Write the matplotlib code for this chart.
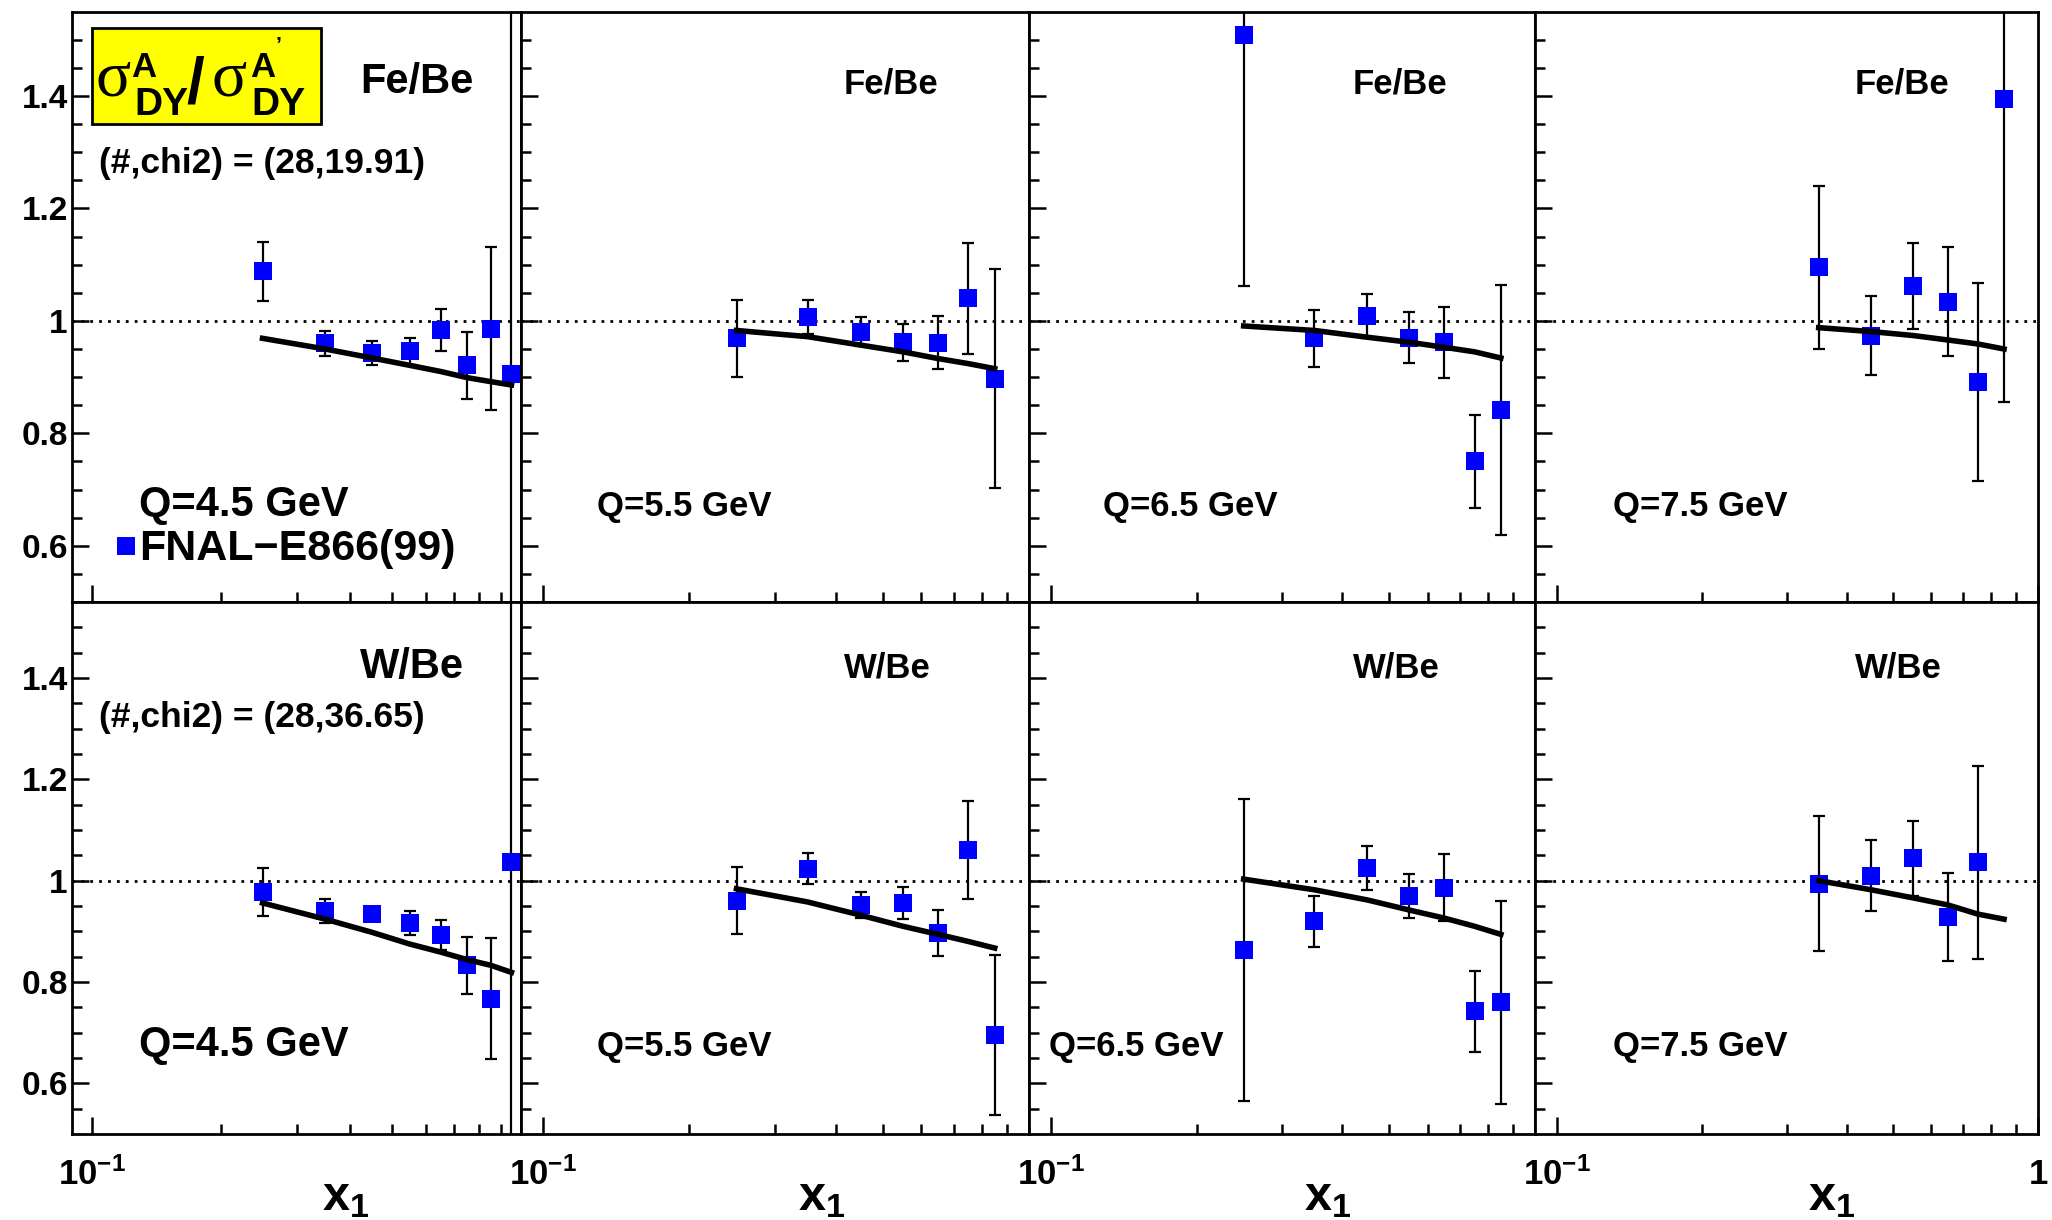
import matplotlib
matplotlib.use("Agg")
import matplotlib.pyplot as plt
from matplotlib.patches import Rectangle
from matplotlib.ticker import FixedLocator, FixedFormatter, NullFormatter

plt.rcParams['font.family'] = ['Liberation Sans', 'DejaVu Sans']
plt.rcParams['font.weight'] = 'bold'
plt.rcParams['mathtext.fontset'] = 'custom'
plt.rcParams['mathtext.rm'] = 'Liberation Sans:bold'
plt.rcParams['mathtext.it'] = 'Liberation Sans:bold'
plt.rcParams['mathtext.bf'] = 'Liberation Sans:bold'

# ---- data ----
q_labels = ["Q=4.5 GeV", "Q=5.5 GeV", "Q=6.5 GeV", "Q=7.5 GeV"]
chi2_labels = ["(#,chi2) = (28,19.91)", "(#,chi2) = (28,36.65)"]
row_names = ["Fe/Be", "W/Be"]

x_q45 = [0.25, 0.35, 0.45, 0.55, 0.65, 0.75, 0.85, 0.95]
x_q55 = [0.25, 0.35, 0.45, 0.55, 0.65, 0.75, 0.85]
x_q65 = [0.25, 0.35, 0.45, 0.55, 0.65, 0.75, 0.85]
x_q75 = [0.35, 0.45, 0.55, 0.65, 0.75, 0.85]
x_q75_w = [0.35, 0.45, 0.55, 0.65, 0.75]

# Fe/Be (E866)
fe_ratio = [
    [1.088, 0.960, 0.943, 0.946, 0.984, 0.921, 0.986, 0.906],
    [0.969, 1.007, 0.981, 0.962, 0.961, 1.040, 0.897],
    [1.509, 0.969, 1.009, 0.970, 0.962, 0.750, 0.841],
    [1.095, 0.974, 1.062, 1.034, 0.892, 1.394],
]
fe_err = [
    [0.052, 0.022, 0.022, 0.024, 0.037, 0.060, 0.145, 0.700],
    [0.068, 0.031, 0.026, 0.033, 0.047, 0.098, 0.195],
    [0.447, 0.051, 0.039, 0.045, 0.063, 0.082, 0.222],
    [0.145, 0.070, 0.077, 0.097, 0.176, 0.539],
]
fe_theory = [
    [0.969, 0.950, 0.934, 0.921, 0.910, 0.899, 0.892, 0.886],
    [0.983, 0.972, 0.957, 0.945, 0.933, 0.924, 0.915],
    [0.991, 0.983, 0.971, 0.962, 0.953, 0.945, 0.934],
    [0.988, 0.981, 0.974, 0.966, 0.959, 0.950],
]

# W/Be (E866)
w_ratio = [
    [0.978, 0.940, 0.934, 0.917, 0.893, 0.833, 0.767, 1.036],
    [0.960, 1.024, 0.952, 0.956, 0.897, 1.061, 0.696],
    [0.864, 0.920, 1.025, 0.970, 0.986, 0.742, 0.760],
    [0.994, 1.010, 1.044, 0.928, 1.036],
]
w_err = [
    [0.047, 0.023, 0.010, 0.024, 0.030, 0.056, 0.119, 0.700],
    [0.066, 0.030, 0.026, 0.031, 0.045, 0.097, 0.158],
    [0.298, 0.050, 0.043, 0.044, 0.066, 0.080, 0.200],
    [0.133, 0.070, 0.074, 0.087, 0.190],
]
w_theory = [
    [0.956, 0.924, 0.898, 0.875, 0.859, 0.844, 0.833, 0.819],
    [0.984, 0.958, 0.932, 0.910, 0.894, 0.880, 0.867],
    [1.003, 0.982, 0.962, 0.942, 0.926, 0.910, 0.894],
    [1.000, 0.982, 0.966, 0.952, 0.934, 0.924],
]

data_x = [[x_q45, x_q55, x_q65, x_q75], [x_q45, x_q55, x_q65, x_q75_w]]
theory_x = [x_q45, x_q55, x_q65, x_q75]
ratios = [fe_ratio, w_ratio]
errors = [fe_err, w_err]
theories = [fe_theory, w_theory]

# ---- layout in pixels of the 2052x1220 canvas ----
W, H = 2052, 1220
def fx(px):
    return px / W
def fy(py):
    return 1 - py / H

col_edges = [72, 521, 1029, 1535, 2038]
row_edges = [11.7, 602, 1134]

fig = plt.figure(figsize=(W / 100, H / 100), dpi=100)

axes = []
for r in range(2):
    for c in range(4):
        left, right = col_edges[c], col_edges[c + 1]
        top, bot = row_edges[r], row_edges[r + 1]
        ax = fig.add_axes([fx(left), fy(bot), (right - left) / W, (bot - top) / H])
        ax.set_xscale('log')
        ax.set_xlim(0.09, 1.0)
        ax.set_ylim(0.5, 1.55)
        for s in ax.spines.values():
            s.set_linewidth(2.0)

        ax.xaxis.set_major_locator(FixedLocator([0.1, 1.0]))
        ax.xaxis.set_minor_locator(FixedLocator([0.2, 0.3, 0.4, 0.5, 0.6, 0.7, 0.8, 0.9]))
        ax.xaxis.set_minor_formatter(NullFormatter())
        if r == 1:
            last = '1' if c == 3 else ''
            ax.xaxis.set_major_formatter(FixedFormatter([r'$10^{-1}$', last]))
        else:
            ax.xaxis.set_major_formatter(NullFormatter())

        ax.yaxis.set_major_locator(FixedLocator([0.6, 0.8, 1.0, 1.2, 1.4]))
        ax.yaxis.set_minor_locator(FixedLocator([0.55, 0.65, 0.7, 0.75, 0.85, 0.9, 0.95,
                                                 1.05, 1.1, 1.15, 1.25, 1.3, 1.35, 1.45, 1.5]))
        if c == 0:
            ax.yaxis.set_major_formatter(FixedFormatter(['0.6', '0.8', '1', '1.2', '1.4']))
        else:
            ax.yaxis.set_major_formatter(NullFormatter())

        ax.tick_params(which='both', direction='in', top=False, right=False, width=1.8)
        ax.tick_params(which='major', length=12)
        ax.tick_params(which='minor', length=7)
        ax.tick_params(axis='y', labelsize=24, pad=3)
        ax.tick_params(axis='x', labelsize=25, pad=17)

        ax.axhline(1.0, color='black', lw=2, ls=(0, (1, 2.2)), zorder=1)

        ax.errorbar(data_x[r][c], ratios[r][c], yerr=errors[r][c], fmt='none',
                    ecolor='black', elinewidth=1.6, capsize=4.5, capthick=1.6, zorder=2)
        ax.plot(theory_x[c], theories[r][c], color='black', lw=4, zorder=5)
        ax.plot(data_x[r][c], ratios[r][c], 's', color='#0000ff', ms=13, mew=0, zorder=4)
        axes.append(ax)

# ---- text annotations ----
big, small = 30, 25
name_left = [360, 844, 1353, 1855]
q_left_top = [139, 597, 1103, 1613]
q_left_bot = [139, 597, 1049, 1613]
name_base = [93, 678]
q_base = [516, 1056]
for c in range(4):
    fs = big if c == 0 else small
    for r in range(2):
        fig.text(fx(name_left[c]), fy(name_base[r]), row_names[r], fontsize=fs,
                 fontweight='bold', va='baseline', ha='left')
        ql = q_left_top[c] if r == 0 else q_left_bot[c]
        fig.text(fx(ql), fy(q_base[r]), q_labels[c], fontsize=fs,
                 fontweight='bold', va='baseline', ha='left')

fig.text(fx(99), fy(173), chi2_labels[0], fontsize=25.5, fontweight='bold', va='baseline')
fig.text(fx(99), fy(727), chi2_labels[1], fontsize=25.5, fontweight='bold', va='baseline')

# legend entry
axes[0].plot([fx(126)], [fy(546)], 's', color='#0000ff', ms=13, mew=0,
             transform=fig.transFigure, clip_on=False)
fig.text(fx(139), fy(560), "FNAL\u2212E866(99)", fontsize=31, fontweight='bold', va='baseline')

# yellow ratio box
fig.add_artist(Rectangle((fx(92), fy(124)), (321 - 92) / W, (124 - 28) / H,
                         transform=fig.transFigure, facecolor='#ffff00',
                         edgecolor='black', lw=2))
sig_kw = dict(fontsize=47, fontweight='normal', family='Liberation Serif', va='baseline')
fig.text(fx(96), fy(96), "\u03c3", **sig_kw)
fig.text(fx(131), fy(77), "A", fontsize=25, fontweight='bold', va='baseline')
fig.text(fx(134), fy(115), "DY", fontsize=28, fontweight='bold', va='baseline')
fig.text(fx(186), fy(102), "/", fontsize=46, fontweight='bold', va='baseline')
fig.text(fx(212), fy(96), "\u03c3", **sig_kw)
fig.text(fx(250), fy(77), "A", fontsize=25, fontweight='bold', va='baseline')
fig.text(fx(276), fy(50), "\u2019", fontsize=15, fontweight='bold', va='baseline')
fig.text(fx(251), fy(115), "DY", fontsize=28, fontweight='bold', va='baseline')

# x axis titles
x1_centers = [346, 822, 1328, 1832]
for cx in x1_centers:
    fig.text(fx(cx), fy(1210), r'$x_{1}$', fontsize=35, ha='center', va='baseline')

fig.savefig("out.png", dpi=100)
